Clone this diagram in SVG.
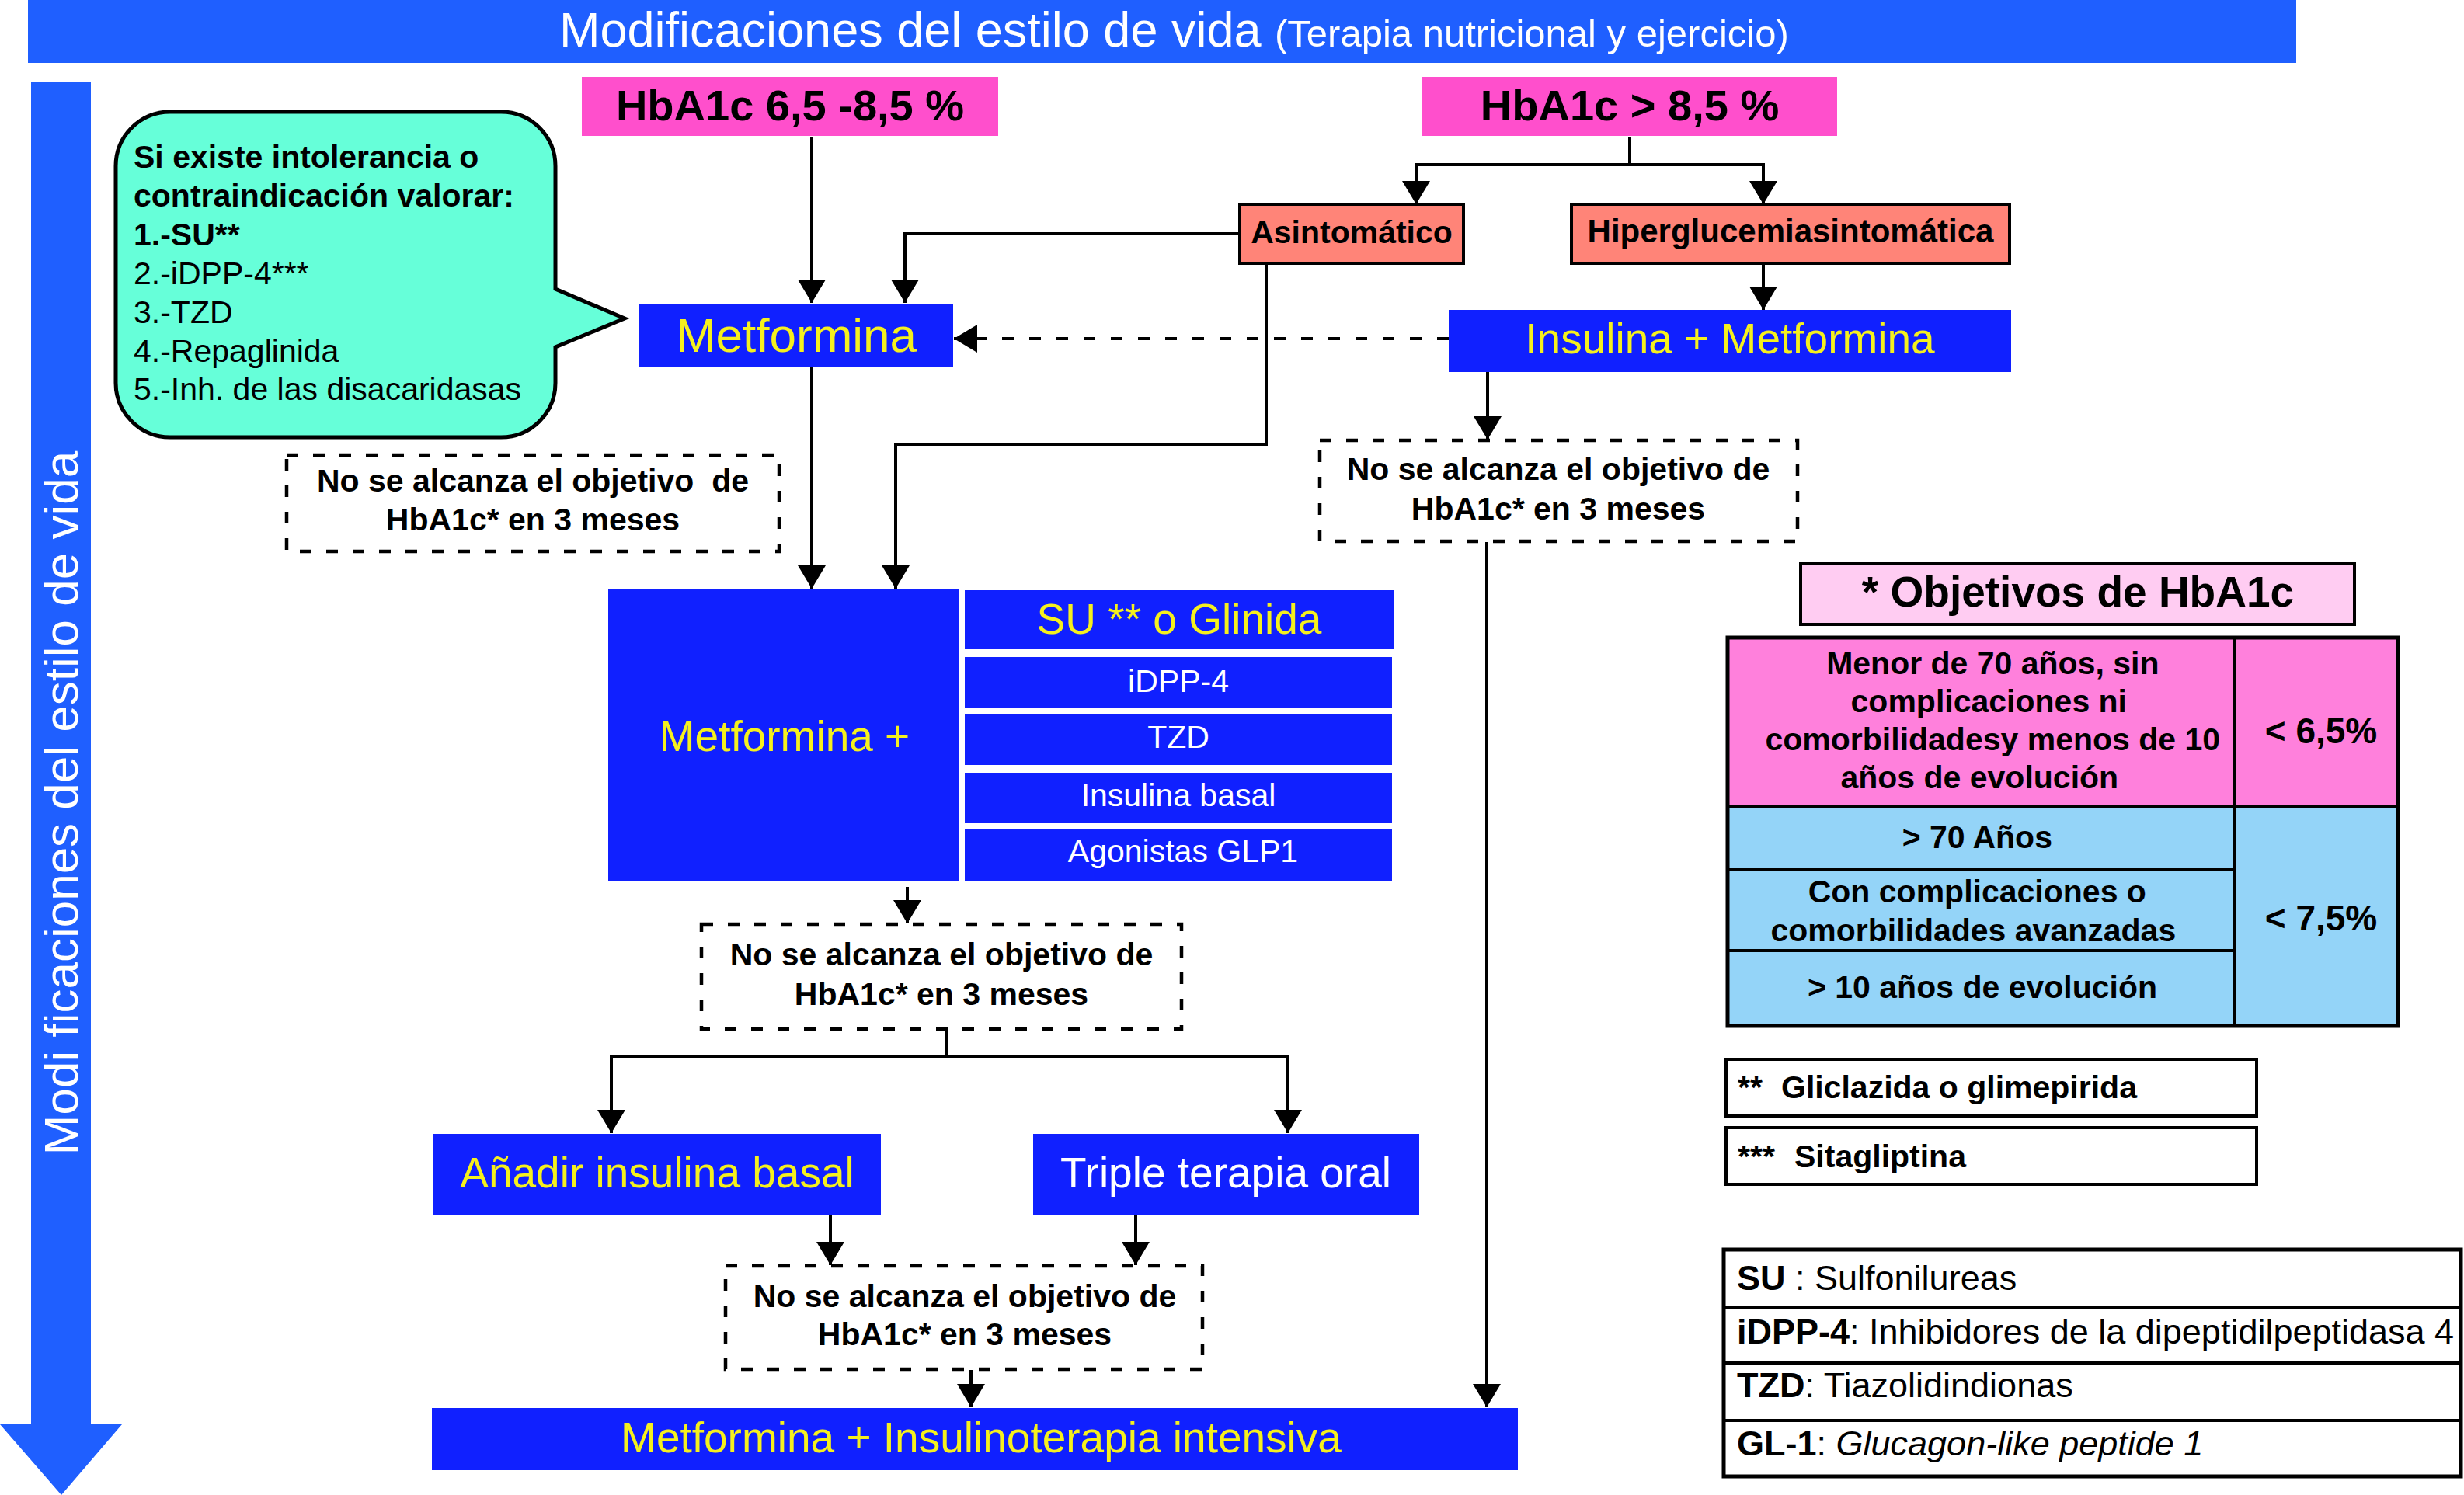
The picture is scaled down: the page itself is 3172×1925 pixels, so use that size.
<svg xmlns="http://www.w3.org/2000/svg" width="3172" height="1925" viewBox="0 0 3172 1925">
<style>
text{font-family:"Liberation Sans",Arial,Helvetica,sans-serif}
.b{font-weight:bold}
.w{fill:#ffffff}
.y{fill:#f5f01e}
.k{fill:#000000}
.node{fill:#1020ff}
.pink{fill:#ff4fcc}
.salmon{fill:#ff8478;stroke:#000;stroke-width:4}
.dash{fill:none;stroke:#000;stroke-width:4.5;stroke-dasharray:15 19}
.ln{fill:none;stroke:#000;stroke-width:4}
.mid{text-anchor:middle}
</style>
<defs>
<marker id="ah" markerUnits="userSpaceOnUse" markerWidth="30" markerHeight="36" viewBox="0 0 30 36" refX="30" refY="18" orient="auto">
<path d="M0,0 L30,18 L0,36 Z" fill="#000"/>
</marker>
</defs>
<rect width="3172" height="1925" fill="#ffffff"/>

<g id="header">
<rect x="36" y="0" width="2920" height="81" fill="#1f5fff"/>
<text x="720" y="60" font-size="63" class="w">Modificaciones del estilo de vida <tspan font-size="49">(Terapia nutricional y ejercicio)</tspan></text>
</g>

<g id="side-arrow">
<path d="M40,106 H117 V1834 H157 L79,1925 L0,1834 H40 Z" fill="#1f5fff"/>
<text transform="translate(100,1034) rotate(-90)" font-size="62" class="w mid" style="white-space:pre">Modi ficaciones del estilo de vida</text>
</g>

<g id="connectors">
<path class="ln" d="M1045,176 V390" marker-end="url(#ah)"/>
<path class="ln" d="M2098,176 V212 H1823 V263" marker-end="url(#ah)"/>
<path class="ln" d="M2098,212 H2270 V263" marker-end="url(#ah)"/>
<path class="ln" d="M1596,301 H1165 V390" marker-end="url(#ah)"/>
<path class="ln" d="M1630,339 V572 H1153 V758" marker-end="url(#ah)"/>
<path class="ln" d="M2270,339 V399" marker-end="url(#ah)"/>
<path class="ln" d="M1865,436 H1228" stroke-dasharray="15 20" stroke-width="5" marker-end="url(#ah)"/>
<path class="ln" d="M1915,479 V566" marker-end="url(#ah)"/>
<path class="ln" d="M1914,698 V1812" marker-end="url(#ah)"/>
<path class="ln" d="M1045,472 V758" marker-end="url(#ah)"/>
<path class="ln" d="M1168,1142 V1189" marker-end="url(#ah)"/>
<path class="ln" d="M1218,1325 V1360 H787 V1459" marker-end="url(#ah)"/>
<path class="ln" d="M1218,1360 H1658 V1459" marker-end="url(#ah)"/>
<path class="ln" d="M1069,1565 V1629" marker-end="url(#ah)"/>
<path class="ln" d="M1462,1565 V1629" marker-end="url(#ah)"/>
<path class="ln" d="M1250,1764 V1812" marker-end="url(#ah)"/>
</g>

<g id="hba1c-low">
<rect x="749" y="99" width="536" height="76" class="pink"/>
<text x="1017" y="155" font-size="56" class="b k mid">HbA1c 6,5 -8,5 %</text>
</g>

<g id="hba1c-high">
<rect x="1831" y="99" width="534" height="76" class="pink"/>
<text x="2098" y="155" font-size="56" class="b k mid">HbA1c &gt; 8,5 %</text>
</g>

<g id="callout">
<path d="M219,144 H645 A70,70 0 0 1 715,214 V372 L804,410 L715,447 V493 A70,70 0 0 1 645,563 H219 A70,70 0 0 1 149,493 V214 A70,70 0 0 1 219,144 Z" fill="#66ffd9" stroke="#000" stroke-width="5"/>
<text font-size="41" class="k">
<tspan x="172" y="216" class="b">Si existe intolerancia o</tspan>
<tspan x="172" y="266" class="b">contraindicación valorar:</tspan>
<tspan x="172" y="316" class="b">1.-SU**</tspan>
<tspan x="172" y="366">2.-iDPP-4***</tspan>
<tspan x="172" y="416">3.-TZD</tspan>
<tspan x="172" y="466">4.-Repaglinida</tspan>
<tspan x="172" y="515">5.-Inh. de las disacaridasas</tspan>
</text>
</g>

<g id="asintomatico">
<rect x="1596" y="263" width="288" height="76" class="salmon"/>
<text x="1740" y="313" font-size="41" class="b k mid">Asintomático</text>
</g>

<g id="hiperglucemia">
<rect x="2023" y="263" width="564" height="76" class="salmon"/>
<text x="2305" y="312" font-size="42" class="b k mid">Hiperglucemiasintomática</text>
</g>

<g id="metformina">
<rect x="823" y="391" width="404" height="81" class="node"/>
<text x="1025" y="453" font-size="62" class="y mid">Metformina</text>
</g>

<g id="insulina-metformina">
<rect x="1865" y="399" width="724" height="80" class="node"/>
<text x="2227" y="455" font-size="55" class="y mid">Insulina + Metformina</text>
</g>

<g id="no-objetivo-1">
<rect x="369" y="586" width="634" height="124" class="dash"/>
<text font-size="41" class="b k mid" style="white-space:pre"><tspan x="686" y="633">No se alcanza el objetivo  de</tspan><tspan x="686" y="683">HbA1c* en 3 meses</tspan></text>
</g>

<g id="no-objetivo-2">
<rect x="1699" y="567" width="615" height="130" class="dash"/>
<text font-size="41" class="b k mid"><tspan x="2006" y="618">No se alcanza el objetivo de</tspan><tspan x="2006" y="669">HbA1c* en 3 meses</tspan></text>
</g>

<g id="metformina-plus">
<rect x="783" y="758" width="451" height="377" class="node"/>
<text x="1010" y="967" font-size="55" class="y mid">Metformina +</text>
<rect x="1242" y="760" width="553" height="76" class="node"/>
<text x="1518" y="816" font-size="55" class="y mid">SU ** o Glinida</text>
<rect x="1242" y="846" width="550" height="66" class="node"/>
<text x="1517" y="891" font-size="41" class="w mid">iDPP-4</text>
<rect x="1242" y="920" width="550" height="65" class="node"/>
<text x="1517" y="963" font-size="41" class="w mid">TZD</text>
<rect x="1242" y="995" width="550" height="65" class="node"/>
<text x="1517" y="1038" font-size="41" class="w mid">Insulina basal</text>
<rect x="1242" y="1067" width="550" height="68" class="node"/>
<text x="1523" y="1110" font-size="41" class="w mid">Agonistas GLP1</text>
</g>

<g id="no-objetivo-3">
<rect x="903" y="1190" width="618" height="135" class="dash"/>
<text font-size="41" class="b k mid"><tspan x="1212" y="1243">No se alcanza el objetivo de</tspan><tspan x="1212" y="1294">HbA1c* en 3 meses</tspan></text>
</g>

<g id="anadir-insulina">
<rect x="558" y="1460" width="576" height="105" class="node"/>
<text x="846" y="1529" font-size="55" class="y mid">Añadir insulina basal</text>
</g>

<g id="triple-terapia">
<rect x="1330" y="1460" width="497" height="105" class="node"/>
<text x="1578" y="1529" font-size="55" class="w mid">Triple terapia oral</text>
</g>

<g id="no-objetivo-4">
<rect x="934" y="1630" width="614" height="133" class="dash"/>
<text font-size="41" class="b k mid"><tspan x="1242" y="1683">No se alcanza el objetivo de</tspan><tspan x="1242" y="1732">HbA1c* en 3 meses</tspan></text>
</g>

<g id="insulinoterapia">
<rect x="556" y="1813" width="1398" height="80" class="node"/>
<text x="1263" y="1870" font-size="55" class="y mid">Metformina + Insulinoterapia intensiva</text>
</g>

<g id="objetivos-title">
<rect x="2318" y="726" width="713" height="78" fill="#ffccf2" stroke="#000" stroke-width="4"/>
<text x="2675" y="781" font-size="55" class="b k mid">* Objetivos de HbA1c</text>
</g>

<g id="objetivos-table">
<rect x="2224" y="821" width="863" height="218" fill="#ff80dc"/>
<rect x="2224" y="1039" width="863" height="282" fill="#94d4f8"/>
<path class="ln" d="M2224,1039 H3087 M2224,1120 H2877 M2224,1224 H2877 M2877,821 V1321"/>
<rect x="2224" y="821" width="863" height="500" fill="none" stroke="#000" stroke-width="5"/>
<text font-size="41" class="b k mid">
<tspan x="2571" y="868">Menor de 70 años, sin</tspan>
<tspan x="2566" y="917">complicaciones ni</tspan>
<tspan x="2571" y="966">comorbilidadesy menos de 10</tspan>
<tspan x="2554" y="1015">años de evolución</tspan>
<tspan x="2551" y="1092">&gt; 70 Años</tspan>
<tspan x="2551" y="1162">Con complicaciones o</tspan>
<tspan x="2546" y="1212">comorbilidades avanzadas</tspan>
<tspan x="2552" y="1285">&gt; 10 años de evolución</tspan>
</text>
<text font-size="46" class="b k mid"><tspan x="2988" y="957">&lt; 6,5%</tspan><tspan x="2988" y="1198">&lt; 7,5%</tspan></text>
</g>

<g id="nota-su">
<rect x="2222" y="1364" width="683" height="73" fill="#fff" stroke="#000" stroke-width="4"/>
<text y="1414" font-size="41" class="b k"><tspan x="2237">**</tspan><tspan x="2293">Gliclazida o glimepirida</tspan></text>
</g>

<g id="nota-idpp">
<rect x="2222" y="1452" width="683" height="73" fill="#fff" stroke="#000" stroke-width="4"/>
<text y="1503" font-size="41" class="b k"><tspan x="2237">***</tspan><tspan x="2310">Sitagliptina</tspan></text>
</g>

<g id="glosario">
<rect x="2219" y="1609" width="949" height="292" fill="#fff" stroke="#000" stroke-width="5"/>
<path class="ln" stroke-width="5" d="M2219,1683 H3168 M2219,1755 H3168 M2219,1829 H3168"/>
<text x="2236" y="1661" font-size="45" class="k"><tspan class="b">SU</tspan> : Sulfonilureas</text>
<text x="2236" y="1730" font-size="45" class="k"><tspan class="b">iDPP-4</tspan>: Inhibidores de la dipeptidilpeptidasa 4</text>
<text x="2236" y="1799" font-size="45" class="k"><tspan class="b">TZD</tspan>: Tiazolidindionas</text>
<text x="2236" y="1874" font-size="45" class="k"><tspan class="b">GL-1</tspan>: <tspan font-style="italic">Glucagon-like peptide 1</tspan></text>
</g>
</svg>
